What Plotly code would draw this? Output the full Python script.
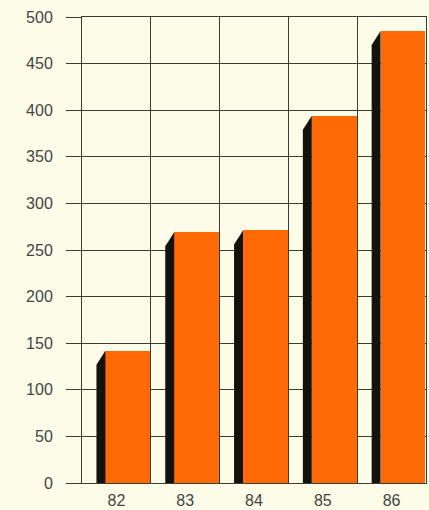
import plotly.graph_objects as go

# Yearly totals
years = ["82", "83", "84", "85", "86"]
values = [142, 269, 271, 394, 485]

y_ticks = list(range(0, 501, 50))

ORANGE = "#ff6a06"
SIDE = "#15120e"
GRID = "#3b3d33"
BG = "#fdfce9"

# bar geometry in category units (category i spans i-0.5 .. i+0.5)
FRONT_OFFSET = -0.16
FRONT_WIDTH = 0.65
SIDE_LEFT = -0.29
SLANT = 15  # drop of the side's back edge, in value units

xs = list(range(len(years)))

fig = go.Figure()

# dark side faces giving the bars depth
for x, v in zip(xs, values):
    l = x + SIDE_LEFT
    r = x + FRONT_OFFSET
    fig.add_trace(go.Scatter(
        x=[l, l, r, r, l],
        y=[0, v - SLANT, v, 0, 0],
        mode="lines", fill="toself",
        fillcolor=SIDE, line=dict(width=0, color=SIDE),
        hoverinfo="skip", showlegend=False,
    ))

# orange fronts
fig.add_trace(go.Bar(
    x=xs, y=values,
    offset=FRONT_OFFSET, width=FRONT_WIDTH,
    marker=dict(color=ORANGE, line=dict(width=0)),
    showlegend=False,
))

fig.update_layout(
    width=429, height=510,
    margin=dict(l=82, r=3, t=17, b=27),
    paper_bgcolor=BG, plot_bgcolor=BG,
    font=dict(family="Liberation Sans, Arial, sans-serif", size=16, color="#444444"),
    bargap=0,
)

fig.update_xaxes(
    range=[-0.5, len(years) - 0.5],
    tickmode="array", tickvals=xs, ticktext=years,
    showgrid=False, zeroline=False, automargin=False,
    ticks="", ticklabelstandoff=3,
    showline=True, linecolor=GRID, linewidth=1, mirror=True,
    minor=dict(tickmode="array",
               tickvals=[x + 0.5 for x in xs[:-1]],
               showgrid=True, gridcolor=GRID, gridwidth=1, ticks=""),
)

fig.update_yaxes(
    range=[0, 500],
    tickmode="array", tickvals=y_ticks,
    showgrid=True, gridcolor=GRID, gridwidth=1,
    zeroline=False, automargin=False,
    ticks="outside", ticklen=15, tickcolor=GRID, tickwidth=1,
    ticklabelstandoff=10,
    showline=True, linecolor=GRID, linewidth=1, mirror=True,
)

fig.write_html("out.html")
